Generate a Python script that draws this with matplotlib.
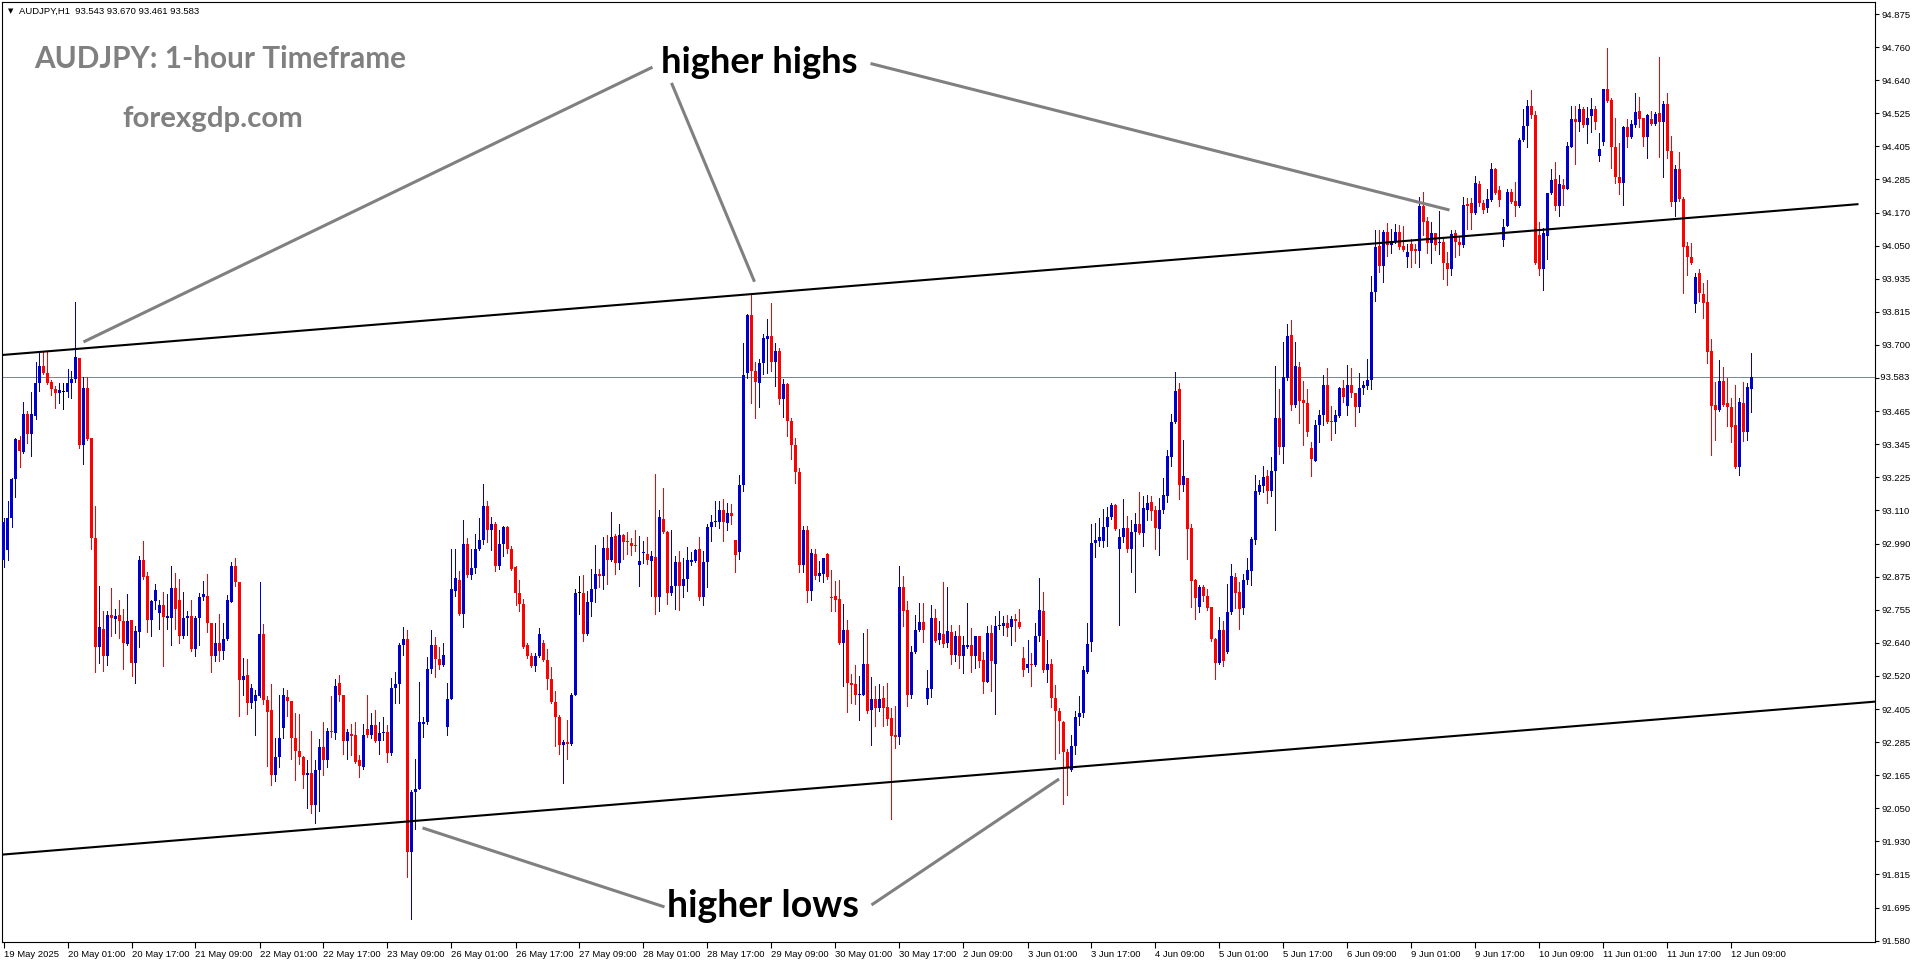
import numpy as np
import pandas as pd
import matplotlib
matplotlib.use("Agg")
import matplotlib.pyplot as plt

# AUDJPY H1 candles: (open, high, low, close)
# week 1: 19 May 09:00 -> 23 May 23:00
week_19may = [
    (92.932, 93.082, 92.910, 93.070), (92.970, 93.142, 92.935, 93.082), (93.082, 93.224, 93.052, 93.220),
    (93.220, 93.369, 93.157, 93.363), (93.360, 93.374, 93.265, 93.321), (93.318, 93.494, 93.314, 93.453),
    (93.453, 93.464, 93.348, 93.381), (93.381, 93.531, 93.302, 93.453), (93.447, 93.636, 93.434, 93.564),
    (93.564, 93.678, 93.535, 93.624), (93.624, 93.673, 93.594, 93.598), (93.598, 93.673, 93.558, 93.564),
    (93.568, 93.573, 93.519, 93.540), (93.541, 93.553, 93.474, 93.528), (93.528, 93.564, 93.492, 93.538),
    (93.531, 93.564, 93.471, 93.531), (93.531, 93.612, 93.513, 93.564), (93.564, 93.606, 93.510, 93.577),
    (93.577, 93.851, 93.568, 93.655), (93.652, 93.652, 93.333, 93.344), (93.344, 93.583, 93.274, 93.546),
    (93.546, 93.583, 93.359, 93.363), (93.369, 93.369, 92.974, 93.013), (93.013, 93.124, 92.536, 92.626),
    (92.626, 92.840, 92.566, 92.696), (92.690, 92.753, 92.540, 92.591), (92.591, 92.753, 92.561, 92.738),
    (92.738, 92.835, 92.663, 92.726), (92.723, 92.760, 92.675, 92.735), (92.738, 92.790, 92.655, 92.715),
    (92.718, 92.760, 92.546, 92.640), (92.636, 92.813, 92.633, 92.718), (92.720, 92.720, 92.521, 92.566),
    (92.566, 92.700, 92.498, 92.681), (92.678, 92.947, 92.626, 92.935), (92.935, 93.000, 92.865, 92.873),
    (92.876, 92.890, 92.678, 92.720), (92.720, 92.793, 92.663, 92.787), (92.787, 92.850, 92.760, 92.828),
    (92.745, 92.793, 92.690, 92.772), (92.772, 92.820, 92.555, 92.730), (92.726, 92.813, 92.690, 92.733),
    (92.726, 92.913, 92.633, 92.835), (92.835, 92.887, 92.690, 92.760), (92.790, 92.865, 92.640, 92.663),
    (92.663, 92.820, 92.655, 92.726), (92.726, 92.753, 92.666, 92.733), (92.733, 92.790, 92.611, 92.618),
    (92.618, 92.733, 92.591, 92.726), (92.726, 92.816, 92.633, 92.801), (92.801, 92.858, 92.790, 92.813),
    (92.805, 92.885, 92.678, 92.708), (92.711, 92.711, 92.536, 92.594), (92.594, 92.711, 92.573, 92.640),
    (92.640, 92.741, 92.576, 92.611), (92.611, 92.708, 92.581, 92.651), (92.651, 92.810, 92.648, 92.790),
    (92.786, 92.925, 92.783, 92.913), (92.913, 92.940, 92.840, 92.855), (92.855, 92.855, 92.379, 92.506),
    (92.506, 92.585, 92.453, 92.521), (92.525, 92.581, 92.386, 92.424), (92.424, 92.491, 92.409, 92.479),
    (92.431, 92.471, 92.311, 92.453), (92.450, 92.855, 92.446, 92.670), (92.670, 92.705, 92.421, 92.436),
    (92.436, 92.450, 92.202, 92.394), (92.401, 92.491, 92.132, 92.169), (92.169, 92.301, 92.147, 92.232),
    (92.232, 92.453, 92.199, 92.301), (92.337, 92.480, 92.301, 92.453), (92.446, 92.471, 92.379, 92.431),
    (92.431, 92.431, 92.226, 92.301), (92.301, 92.391, 92.151, 92.256), (92.256, 92.386, 92.207, 92.232),
    (92.232, 92.236, 92.124, 92.169), (92.169, 92.222, 92.052, 92.177), (92.177, 92.326, 92.034, 92.064),
    (92.064, 92.222, 91.997, 92.187), (92.187, 92.296, 92.042, 92.269), (92.269, 92.356, 92.169, 92.222),
    (92.222, 92.337, 92.196, 92.326), (92.326, 92.450, 92.304, 92.322), (92.319, 92.510, 92.296, 92.486),
    (92.495, 92.525, 92.431, 92.453), (92.453, 92.453, 92.244, 92.289), (92.289, 92.331, 92.226, 92.322),
    (92.316, 92.352, 92.241, 92.307), (92.310, 92.356, 92.211, 92.214), (92.222, 92.241, 92.162, 92.202),
    (92.199, 92.349, 92.192, 92.311), (92.331, 92.453, 92.304, 92.311), (92.311, 92.391, 92.301, 92.346),
    (92.346, 92.401, 92.286, 92.289), (92.289, 92.356, 92.244, 92.319), (92.319, 92.376, 92.292, 92.322),
    (92.322, 92.346, 92.217, 92.247), (92.247, 92.513, 92.241, 92.480), (92.480, 92.536, 92.424, 92.491),
    (92.491, 92.640, 92.424, 92.630), (92.630, 92.696, 92.596, 92.651), (92.651, 92.685, 91.807, 91.897),
    (91.897, 92.117, 91.657, 92.109), (92.109, 92.226, 91.978, 92.121), (92.121, 92.501, 92.121, 92.356),
    (92.352, 92.376, 92.304, 92.356), (92.356, 92.588, 92.352, 92.546), (92.546, 92.685, 92.531, 92.630),
    (92.630, 92.660, 92.516, 92.581), (92.581, 92.626, 92.546, 92.561), (92.561, 92.640, 92.555, 92.596),
]

# week 2: 26 May 00:00 -> 30 May 23:00
week_26may = [
    (92.339, 92.498, 92.312, 92.441), (92.441, 92.972, 92.441, 92.829), (92.822, 92.972, 92.806, 92.870),
    (92.863, 92.893, 92.738, 92.740), (92.740, 93.076, 92.697, 92.992), (92.992, 93.013, 92.874, 92.879),
    (92.879, 92.974, 92.866, 92.904), (92.904, 93.026, 92.887, 92.974), (92.974, 93.083, 92.968, 93.004),
    (93.004, 93.203, 92.991, 93.125), (93.125, 93.142, 92.996, 93.042), (93.042, 93.087, 92.969, 93.063),
    (93.063, 93.067, 92.893, 92.913), (92.913, 93.042, 92.900, 92.989), (92.989, 93.056, 92.947, 93.051),
    (93.051, 93.056, 92.958, 92.974), (92.974, 92.985, 92.897, 92.900), (92.909, 92.913, 92.774, 92.815),
    (92.815, 92.863, 92.754, 92.777), (92.777, 92.795, 92.621, 92.625), (92.632, 92.638, 92.584, 92.591),
    (92.591, 92.602, 92.553, 92.557), (92.557, 92.602, 92.539, 92.591), (92.591, 92.691, 92.588, 92.670),
    (92.638, 92.648, 92.574, 92.577), (92.577, 92.618, 92.475, 92.512), (92.512, 92.553, 92.425, 92.427),
    (92.427, 92.468, 92.271, 92.376), (92.376, 92.384, 92.244, 92.275), (92.275, 92.294, 92.139, 92.285),
    (92.285, 92.366, 92.226, 92.278), (92.278, 92.461, 92.275, 92.455), (92.455, 92.829, 92.452, 92.815),
    (92.815, 92.876, 92.740, 92.815), (92.815, 92.879, 92.645, 92.670), (92.670, 92.822, 92.666, 92.784),
    (92.784, 92.901, 92.734, 92.832), (92.832, 92.988, 92.784, 92.883), (92.883, 92.901, 92.838, 92.876),
    (92.876, 93.015, 92.832, 92.976), (92.976, 93.023, 92.847, 92.935), (92.935, 93.105, 92.931, 93.015),
    (93.019, 93.026, 92.883, 92.924), (92.924, 93.060, 92.901, 93.022), (93.022, 93.026, 92.938, 92.999),
    (93.001, 93.033, 92.955, 92.996), (92.995, 93.013, 92.951, 92.983), (92.988, 93.042, 92.965, 92.985),
    (92.917, 93.019, 92.842, 92.931), (92.958, 93.001, 92.924, 92.960), (92.955, 93.015, 92.920, 92.935),
    (92.931, 92.965, 92.806, 92.947), (92.944, 93.240, 92.740, 92.802), (92.802, 93.111, 92.751, 93.087),
    (93.078, 93.189, 93.029, 93.033), (93.032, 93.036, 92.778, 92.815), (92.815, 93.040, 92.808, 92.840),
    (92.840, 92.947, 92.761, 92.927), (92.927, 92.965, 92.757, 92.840), (92.840, 92.942, 92.802, 92.866),
    (92.866, 92.979, 92.825, 92.934), (92.928, 92.961, 92.917, 92.935), (92.931, 92.974, 92.928, 92.969),
    (92.972, 93.015, 92.792, 92.802), (92.802, 92.965, 92.774, 92.928), (92.928, 93.060, 92.836, 93.051),
    (93.051, 93.094, 93.002, 93.067), (93.067, 93.142, 93.056, 93.074), (93.067, 93.142, 93.047, 93.111),
    (93.111, 93.151, 93.002, 93.067), (93.064, 93.138, 93.042, 93.101), (93.101, 93.132, 93.060, 93.091),
    (93.004, 93.004, 92.890, 92.951), (92.961, 93.237, 92.938, 93.199), (93.199, 93.704, 93.179, 93.591),
    (93.598, 93.809, 93.581, 93.806), (93.804, 93.881, 93.491, 93.604), (93.604, 93.638, 93.437, 93.568),
    (93.564, 93.649, 93.478, 93.634), (93.634, 93.736, 93.595, 93.723), (93.720, 93.791, 93.600, 93.730),
    (93.730, 93.849, 93.604, 93.638), (93.638, 93.704, 93.554, 93.677), (93.677, 93.686, 93.489, 93.506),
    (93.506, 93.577, 93.441, 93.560), (93.560, 93.564, 93.373, 93.428), (93.428, 93.437, 93.292, 93.343),
    (93.343, 93.366, 93.206, 93.248), (93.248, 93.260, 92.890, 92.917), (92.917, 93.056, 92.890, 93.040),
    (93.040, 93.056, 92.784, 92.825), (92.825, 92.972, 92.792, 92.958), (92.955, 92.972, 92.866, 92.876),
    (92.876, 92.931, 92.860, 92.887), (92.883, 92.942, 92.856, 92.940), (92.955, 92.958, 92.866, 92.874),
    (92.802, 92.897, 92.751, 92.798), (92.806, 92.860, 92.754, 92.792), (92.795, 92.863, 92.634, 92.638),
    (92.638, 92.778, 92.485, 92.683), (92.683, 92.720, 92.393, 92.498), (92.498, 92.529, 92.425, 92.489),
    (92.493, 92.561, 92.421, 92.452), (92.452, 92.520, 92.366, 92.455), (92.452, 92.675, 92.452, 92.564),
    (92.564, 92.689, 92.389, 92.398), (92.401, 92.516, 92.275, 92.441), (92.441, 92.485, 92.343, 92.407),
    (92.407, 92.493, 92.398, 92.441), (92.444, 92.485, 92.343, 92.407), (92.411, 92.495, 92.346, 92.370),
    (92.372, 92.408, 92.014, 92.309), (92.311, 92.413, 92.264, 92.306), (92.306, 92.912, 92.281, 92.836),
    (92.836, 92.878, 92.700, 92.753), (92.756, 92.789, 92.413, 92.455), (92.455, 92.629, 92.442, 92.607),
    (92.607, 92.738, 92.603, 92.683), (92.683, 92.781, 92.680, 92.713), (92.713, 92.781, 92.642, 92.683),
]

# week 3: 2 Jun 00:00 -> 6 Jun 23:00
week_2jun = [
    (92.438, 92.544, 92.423, 92.480), (92.474, 92.772, 92.446, 92.728), (92.728, 92.760, 92.642, 92.645),
    (92.649, 92.715, 92.636, 92.673), (92.671, 92.855, 92.626, 92.636), (92.639, 92.836, 92.624, 92.680),
    (92.677, 92.703, 92.563, 92.595), (92.595, 92.680, 92.573, 92.664), (92.664, 92.703, 92.550, 92.591),
    (92.591, 92.664, 92.531, 92.633), (92.626, 92.781, 92.620, 92.633), (92.633, 92.692, 92.535, 92.591),
    (92.591, 92.664, 92.550, 92.662), (92.662, 92.664, 92.553, 92.576), (92.578, 92.607, 92.459, 92.499),
    (92.499, 92.700, 92.499, 92.675), (92.675, 92.703, 92.468, 92.576), (92.563, 92.734, 92.385, 92.700),
    (92.700, 92.753, 92.690, 92.703), (92.700, 92.734, 92.667, 92.711), (92.711, 92.738, 92.664, 92.692),
    (92.696, 92.734, 92.633, 92.725), (92.724, 92.741, 92.645, 92.715), (92.713, 92.760, 92.692, 92.696),
    (92.586, 92.626, 92.522, 92.544), (92.550, 92.649, 92.535, 92.563), (92.563, 92.603, 92.484, 92.560),
    (92.560, 92.709, 92.557, 92.662), (92.662, 92.870, 92.645, 92.756), (92.751, 92.819, 92.535, 92.544),
    (92.544, 92.649, 92.499, 92.563), (92.563, 92.582, 92.410, 92.442), (92.442, 92.489, 92.226, 92.395),
    (92.395, 92.408, 92.248, 92.360), (92.356, 92.362, 92.065, 92.252), (92.252, 92.261, 92.099, 92.197),
    (92.188, 92.311, 92.184, 92.273), (92.273, 92.398, 92.245, 92.375), (92.375, 92.449, 92.347, 92.391),
    (92.391, 92.557, 92.375, 92.544), (92.537, 92.709, 92.531, 92.636), (92.641, 93.061, 92.611, 92.995),
    (92.995, 93.064, 92.946, 93.005), (93.001, 93.083, 92.982, 93.014), (93.001, 93.115, 92.979, 93.052),
    (93.052, 93.122, 92.982, 93.086), (93.086, 93.137, 93.081, 93.128), (93.128, 93.132, 93.039, 93.045),
    (92.972, 93.045, 92.703, 93.014), (93.014, 93.150, 92.997, 93.048), (93.048, 93.090, 92.963, 92.972),
    (92.972, 93.077, 92.890, 93.033), (93.033, 93.099, 92.819, 93.061), (93.061, 93.175, 93.026, 93.030),
    (93.030, 93.162, 92.982, 93.119), (93.111, 93.166, 93.077, 93.137), (93.141, 93.162, 93.077, 93.109),
    (93.111, 93.124, 92.972, 93.048), (93.045, 93.153, 92.950, 93.111), (93.111, 93.226, 93.099, 93.166),
    (93.162, 93.325, 93.141, 93.303), (93.299, 93.452, 93.268, 93.424), (93.424, 93.602, 93.420, 93.534),
    (93.543, 93.563, 93.150, 93.200), (93.200, 93.360, 93.179, 93.233), (93.226, 93.226, 92.937, 93.045),
    (93.048, 93.061, 92.766, 92.859), (92.861, 92.865, 92.725, 92.798), (92.766, 92.845, 92.747, 92.836),
    (92.836, 92.845, 92.789, 92.807), (92.807, 92.832, 92.756, 92.763), (92.766, 92.768, 92.645, 92.654),
    (92.654, 92.658, 92.512, 92.569), (92.569, 92.730, 92.565, 92.683), (92.683, 92.718, 92.557, 92.573),
    (92.607, 92.848, 92.603, 92.747), (92.747, 92.918, 92.743, 92.878), (92.874, 92.887, 92.763, 92.817),
    (92.819, 92.857, 92.690, 92.760), (92.763, 92.883, 92.743, 92.861), (92.861, 92.941, 92.848, 92.899),
    (92.895, 93.014, 92.845, 93.010), (93.005, 93.236, 92.992, 93.179), (93.175, 93.217, 93.170, 93.200),
    (93.198, 93.268, 93.175, 93.229), (93.233, 93.255, 93.137, 93.179), (93.179, 93.299, 93.162, 93.249),
    (93.249, 93.623, 93.039, 93.439), (93.439, 93.541, 93.312, 93.337), (93.335, 93.708, 93.280, 93.585),
    (93.581, 93.772, 93.572, 93.731), (93.734, 93.788, 93.467, 93.483), (93.483, 93.708, 93.477, 93.623),
    (93.619, 93.636, 93.420, 93.500), (93.502, 93.569, 93.344, 93.492), (93.492, 93.543, 93.373, 93.388),
    (93.331, 93.353, 93.233, 93.293), (93.287, 93.433, 93.284, 93.414), (93.414, 93.467, 93.353, 93.449),
    (93.449, 93.591, 93.413, 93.556), (93.556, 93.615, 93.422, 93.425), (93.427, 93.481, 93.360, 93.425),
    (93.425, 93.467, 93.386, 93.449), (93.445, 93.550, 93.443, 93.544), (93.544, 93.573, 93.496, 93.512),
    (93.481, 93.627, 93.449, 93.556), (93.556, 93.615, 93.514, 93.526), (93.526, 93.526, 93.410, 93.479),
    (93.479, 93.600, 93.461, 93.544), (93.544, 93.571, 93.524, 93.556), (93.552, 93.647, 93.540, 93.573),
    (93.573, 93.943, 93.540, 93.888), (93.888, 94.107, 93.856, 94.045), (94.050, 94.107, 93.959, 93.979),
    (93.979, 94.107, 93.923, 94.101), (94.101, 94.133, 94.014, 94.054), (94.054, 94.109, 94.026, 94.069),
    (94.069, 94.128, 94.059, 94.101), (94.101, 94.125, 94.038, 94.048), (94.050, 94.121, 94.033, 94.036),
]

# week 4: 9 Jun 00:00 -> 12 Jun 14:00
week_9jun = [
    (94.010, 94.057, 93.974, 94.030), (94.056, 94.074, 93.974, 94.033), (94.039, 94.057, 93.991, 94.033),
    (94.033, 94.225, 93.974, 94.192), (94.192, 94.241, 94.089, 94.137), (94.140, 94.154, 94.024, 94.062),
    (94.062, 94.137, 93.988, 94.095), (94.095, 94.097, 94.036, 94.054), (94.059, 94.176, 94.022, 94.064),
    (94.064, 94.077, 93.931, 93.988), (93.991, 94.030, 93.911, 93.967), (93.967, 94.107, 93.947, 94.093),
    (94.095, 94.107, 94.012, 94.065), (94.065, 94.083, 94.018, 94.054), (94.054, 94.225, 94.048, 94.196),
    (94.199, 94.219, 94.109, 94.192), (94.202, 94.219, 94.109, 94.168), (94.168, 94.299, 94.164, 94.273),
    (94.270, 94.282, 94.192, 94.202), (94.202, 94.214, 94.168, 94.178), (94.184, 94.251, 94.172, 94.216),
    (94.214, 94.344, 94.211, 94.323), (94.323, 94.326, 94.235, 94.240), (94.249, 94.263, 94.192, 94.214),
    (94.071, 94.145, 94.050, 94.116), (94.121, 94.251, 94.121, 94.243), (94.243, 94.251, 94.204, 94.208),
    (94.211, 94.279, 94.157, 94.192), (94.192, 94.433, 94.190, 94.427), (94.427, 94.536, 94.424, 94.477),
    (94.477, 94.569, 94.403, 94.548), (94.548, 94.605, 94.507, 94.516), (94.516, 94.531, 93.986, 93.988),
    (94.089, 94.137, 93.947, 93.967), (93.967, 94.113, 93.893, 94.097), (94.085, 94.240, 94.003, 94.237),
    (94.237, 94.323, 94.235, 94.285), (94.287, 94.350, 94.178, 94.192), (94.192, 94.302, 94.157, 94.270),
    (94.267, 94.287, 94.196, 94.251), (94.251, 94.421, 94.251, 94.405), (94.403, 94.548, 94.401, 94.500),
    (94.500, 94.548, 94.341, 94.492), (94.492, 94.555, 94.460, 94.539), (94.536, 94.543, 94.474, 94.480),
    (94.480, 94.543, 94.417, 94.507), (94.512, 94.575, 94.456, 94.536), (94.536, 94.548, 94.465, 94.492),
    (94.370, 94.453, 94.353, 94.394), (94.421, 94.607, 94.409, 94.607), (94.607, 94.753, 94.563, 94.567),
    (94.569, 94.575, 94.326, 94.401), (94.401, 94.504, 94.275, 94.294), (94.294, 94.417, 94.235, 94.275),
    (94.275, 94.477, 94.196, 94.472), (94.472, 94.500, 94.403, 94.436), (94.436, 94.498, 94.433, 94.484),
    (94.480, 94.593, 94.472, 94.528), (94.531, 94.579, 94.474, 94.500), (94.504, 94.507, 94.405, 94.439),
    (94.439, 94.519, 94.362, 94.516), (94.500, 94.531, 94.480, 94.484), (94.484, 94.528, 94.480, 94.519),
    (94.522, 94.723, 94.368, 94.492), (94.492, 94.567, 94.296, 94.555), (94.555, 94.593, 94.362, 94.389),
    (94.389, 94.441, 94.192, 94.208), (94.208, 94.338, 94.157, 94.323), (94.323, 94.385, 94.211, 94.216),
    (94.216, 94.225, 93.882, 94.045), (94.050, 94.065, 93.947, 94.010), (94.010, 94.059, 93.986, 93.991),
    (93.844, 93.955, 93.816, 93.941), (93.955, 93.967, 93.856, 93.882), (93.879, 93.920, 93.793, 93.846),
    (93.852, 93.929, 93.635, 93.674), (93.678, 93.718, 93.307, 93.481), (93.485, 93.568, 93.362, 93.467),
    (93.467, 93.645, 93.464, 93.571), (93.571, 93.621, 93.481, 93.485), (93.493, 93.579, 93.410, 93.476),
    (93.476, 93.508, 93.354, 93.405), (93.413, 93.556, 93.259, 93.265), (93.263, 93.508, 93.236, 93.496),
    (93.493, 93.568, 93.358, 93.390), (93.390, 93.564, 93.362, 93.550), (93.543, 93.670, 93.461, 93.583),
]

week_starts = ["2025-05-19 09:00", "2025-05-26 00:00", "2025-06-02 00:00", "2025-06-09 00:00"]

bid_price = 93.583
price_labels = ["94.875", "94.760", "94.640", "94.525", "94.405", "94.285", "94.170", "94.050",
                "93.935", "93.815", "93.700", "", "93.465", "93.345", "93.225", "93.110",
                "92.990", "92.875", "92.755", "92.640", "92.520", "92.405", "92.285", "92.165",
                "92.050", "91.930", "91.815", "91.695", "91.580"]

# channel lines drawn on the chart: (bar, price) endpoints
upper_channel = [(-0.375, 93.6625), (463.75, 94.199)]
lower_channel = [(-0.375, 91.886), (467.875, 92.430)]

# annotation pointers (text end -> swing point) in (bar, price)
highs_pointers = [((162.25, 94.686), (20.0, 93.709)),
                  ((167.0, 94.630), (187.75, 93.923)),
                  ((216.75, 94.699), (361.5, 94.178))]
lows_pointers = [((165.25, 91.700), (104.75, 91.981)),
                 ((217.0, 91.707), (263.9, 92.155))]

W, H = 1916, 964
BULL = "#0000cd"
BEAR = "#ff0000"


def px(x, y):
    # figure fraction from pixel position (top-left origin)
    return x / W, 1 - y / H


weeks = [week_19may, week_26may, week_2jun, week_9jun]
frames = []
for start, rows in zip(week_starts, weeks):
    idx = pd.date_range(start, periods=len(rows), freq="h")
    frames.append(pd.DataFrame(rows, columns=["open", "high", "low", "close"], index=idx))
df = pd.concat(frames)
x = np.arange(len(df))
o, h, l, c = (df[k].to_numpy() for k in ["open", "high", "low", "close"])

fig = plt.figure(figsize=(W / 100, H / 100), dpi=100)
fig.patch.set_facecolor("white")
ax = fig.add_axes([2 / W, 1 - 942 / H, (1875 - 2) / W, (942 - 2) / H])
# 4 px per bar, bar centres on pixel centres so 3 px bodies land on whole pixels
ax.set_xlim(-0.375, 467.875)
ax.set_ylim(91.5753, 94.9177)

colors = np.where(c > o, BULL, np.where(c < o, BEAR, "black"))
ax.vlines(x, l, h, colors=colors, linewidth=0.72, antialiased=False, zorder=3)
body_lo = np.minimum(o, c)
body_h = np.maximum(np.abs(c - o), 0.0036)
ax.bar(x, body_h, bottom=body_lo, width=0.75, color=colors, linewidth=0,
       antialiased=False, zorder=4)

# bid line
ax.axhline(bid_price, color="#778899", linewidth=0.72, zorder=2)

# channel
for line in [upper_channel, lower_channel]:
    xs, ys = zip(*line)
    ax.plot(xs, ys, color="black", linewidth=1.5, solid_capstyle="butt", zorder=5)

for (p0, p1) in highs_pointers + lows_pointers:
    ax.plot([p0[0], p1[0]], [p0[1], p1[1]], color="#808080", linewidth=2.2,
            solid_capstyle="butt", zorder=5)

# axes styling
for sp in ax.spines.values():
    sp.set_linewidth(0.8)
    sp.set_color("black")

ax.yaxis.tick_right()
yt = np.linspace(94.875, 91.580, len(price_labels))
ax.set_yticks(yt)
ax.set_yticklabels(price_labels)
ax.tick_params(axis="y", direction="out", length=3, width=0.8, pad=2, labelsize=6.8,
               right=True, left=False)

tick_pos = np.arange(0, len(df), 16)
tick_lbls = []
for i in tick_pos:
    t = df.index[i]
    if i == 0:
        tick_lbls.append(f"{t.day} {t:%b %Y}")
    else:
        tick_lbls.append(f"{t.day} {t:%b %H:%M}")
ax.set_xticks(tick_pos)
ax.set_xticklabels(tick_lbls, ha="left")
ax.tick_params(axis="x", direction="out", length=4, width=0.8, pad=2, labelsize=6.8)
for lbl in ax.get_yticklabels() + ax.get_xticklabels():
    lbl.set_fontfamily("Liberation Sans")

# bid price label on the scale
ax.text(1.0, bid_price, f"  {bid_price:.3f}", transform=ax.get_yaxis_transform(),
        va="center", ha="left", fontsize=6.8, family="Liberation Sans", color="black",
        clip_on=False)

# header line
fig.text(*px(8, 13), "\u25bc", fontsize=5, color="black", va="baseline", ha="left")
fig.text(*px(19, 14), f"AUDJPY,H1  {o[-1]:.3f} {h[-1]:.3f} {l[-1]:.3f} {c[-1]:.3f}",
         fontsize=6.8, family="Liberation Sans", va="baseline", ha="left")

# titles and annotations
fig.text(*px(34, 68), "AUDJPY: 1-hour Timeframe", fontsize=21.4, family="Lato",
         weight="bold", color="#808080", va="baseline", ha="left")
fig.text(*px(122, 127), "forexgdp.com", fontsize=21.2, family="Lato",
         weight="bold", color="#808080", va="baseline", ha="left")
fig.text(*px(661, 73), "higher highs", fontsize=26.2, family="Lato",
         weight="bold", color="black", va="baseline", ha="left")
fig.text(*px(667, 917), "higher lows", fontsize=27.0, family="Lato",
         weight="bold", color="black", va="baseline", ha="left")

fig.savefig("out.png", dpi=100, facecolor="white")
